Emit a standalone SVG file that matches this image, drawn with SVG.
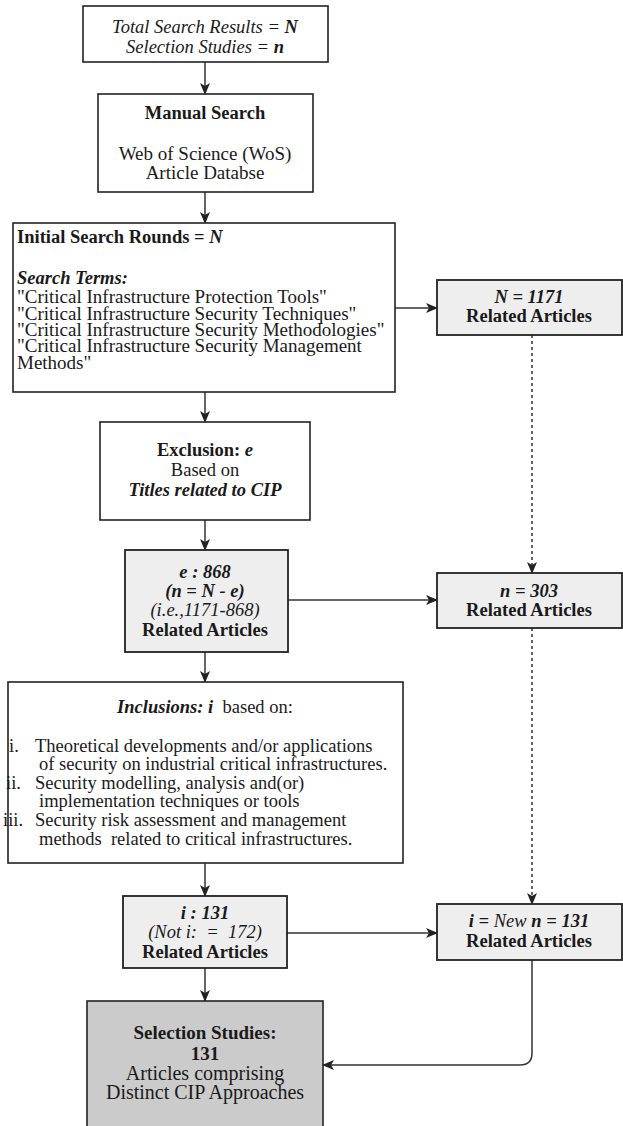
<svg xmlns="http://www.w3.org/2000/svg" width="623" height="1126" viewBox="0 0 623 1126">
<style>
text{font-family:"Liberation Serif","Times New Roman",serif;font-size:18.5px;fill:#1a1a1a}
.c{text-anchor:middle}
.b{font-weight:bold}
.i{font-style:italic}
.bi{font-weight:bold;font-style:italic}
.t19{font-size:19px}
.t20{font-size:20px}
.box{fill:#fff;stroke:#222;stroke-width:1.6}
.gbox{fill:#eeeeee;stroke:#222;stroke-width:1.8}
.dbox{fill:#cbcbcb;stroke:#222;stroke-width:1.6}
.ln{fill:none;stroke:#333;stroke-width:1.5}
.dot{fill:none;stroke:#333;stroke-width:1.5;stroke-dasharray:3 3}
</style>
<defs>
<marker id="ah" viewBox="0 0 12 10" refX="11" refY="5" markerWidth="12" markerHeight="10" markerUnits="userSpaceOnUse" orient="auto">
<path d="M0,0 L12,5 L0,10 L3,5 z" fill="#222"/>
</marker>
</defs>
<g id="connectors">
<line class="ln" x1="205" y1="62" x2="205" y2="94" marker-end="url(#ah)"/>
<line class="ln" x1="205" y1="192" x2="205" y2="223" marker-end="url(#ah)"/>
<line class="ln" x1="395" y1="308" x2="437" y2="308" marker-end="url(#ah)"/>
<line class="dot" x1="532" y1="335" x2="532" y2="573" marker-end="url(#ah)"/>
<line class="ln" x1="205" y1="392" x2="205" y2="422" marker-end="url(#ah)"/>
<line class="ln" x1="205" y1="520" x2="205" y2="550" marker-end="url(#ah)"/>
<line class="ln" x1="288" y1="600" x2="437" y2="600" marker-end="url(#ah)"/>
<line class="dot" x1="532" y1="628" x2="532" y2="904" marker-end="url(#ah)"/>
<line class="ln" x1="205" y1="652" x2="205" y2="682" marker-end="url(#ah)"/>
<line class="ln" x1="205" y1="863" x2="205" y2="896" marker-end="url(#ah)"/>
<line class="ln" x1="287" y1="933" x2="437" y2="933" marker-end="url(#ah)"/>
<line class="ln" x1="205" y1="968" x2="205" y2="1001" marker-end="url(#ah)"/>
<path class="ln" d="M532,960 L532,1053 Q532,1065 520,1065 L323,1065" marker-end="url(#ah)"/>
</g>
<g id="n1">
<rect class="box" x="83" y="6" width="245" height="56"/>
<text class="c i" x="205" y="33">Total Search Results = <tspan class="bi">N</tspan></text>
<text class="c i" x="205" y="53">Selection Studies = <tspan class="bi">n</tspan></text>
</g>
<g id="n2">
<rect class="box" x="98" y="94" width="215" height="98"/>
<text class="c b" x="205" y="119">Manual Search</text>
<text class="c t19" x="205" y="160">Web of Science (WoS)</text>
<text class="c t19" x="205" y="179">Article Databse</text>
</g>
<g id="n3">
<rect class="box" x="13" y="223" width="382" height="169"/>
<text class="b" x="17" y="243">Initial Search Rounds = <tspan class="bi">N</tspan></text>
<text class="bi" x="17" y="284">Search Terms:</text>
<text class="t19" x="17" y="303">"Critical Infrastructure Protection Tools"</text>
<text class="t19" x="17" y="320">"Critical Infrastructure Security Techniques"</text>
<text class="t19" x="17" y="336">"Critical Infrastructure Security Methodologies"</text>
<text class="t19" x="17" y="352">"Critical Infrastructure Security Management</text>
<text class="t19" x="17" y="369">Methods"</text>
</g>
<g id="n4">
<rect class="gbox" x="437" y="280" width="185" height="55"/>
<text class="c bi" x="529" y="303">N = 1171</text>
<text class="c b" x="529" y="322">Related Articles</text>
</g>
<g id="n5">
<rect class="box" x="100" y="422" width="210" height="98"/>
<text class="c b" x="205" y="456">Exclusion: <tspan class="bi">e</tspan></text>
<text class="c" x="205" y="476">Based on</text>
<text class="c bi" x="205" y="496">Titles related to CIP</text>
</g>
<g id="n6">
<rect class="gbox" x="125" y="550" width="163" height="102"/>
<text class="c bi" x="205" y="578">e : 868</text>
<text class="c bi" x="205" y="597">(n = N - e)</text>
<text class="c i" x="205" y="616">(i.e.,1171-868)</text>
<text class="c b" x="205" y="636">Related Articles</text>
</g>
<g id="n7">
<rect class="gbox" x="437" y="573" width="185" height="55"/>
<text class="c bi" x="529" y="597">n = 303</text>
<text class="c b" x="529" y="616">Related Articles</text>
</g>
<g id="n8">
<rect class="box" x="8" y="682" width="395" height="181"/>
<text class="c" x="205" y="713" xml:space="preserve"><tspan class="bi">Inclusions: i</tspan>  based on:</text>
<text x="9" y="752">i.</text>
<text x="35" y="752">Theoretical developments and/or applications</text>
<text x="39" y="770">of security on industrial critical infrastructures.</text>
<text x="6" y="789">ii.</text>
<text x="35" y="789">Security modelling, analysis and(or)</text>
<text x="39" y="807">implementation techniques or tools</text>
<text x="3" y="826">iii.</text>
<text x="35" y="826">Security risk assessment and management</text>
<text x="39" y="845" xml:space="preserve">methods  related to critical infrastructures.</text>
</g>
<g id="n9">
<rect class="gbox" x="123" y="896" width="164" height="72"/>
<text class="c bi" x="205" y="919">i : 131</text>
<text class="c i" x="205" y="938" xml:space="preserve">(Not i:  =  172)</text>
<text class="c b" x="205" y="958">Related Articles</text>
</g>
<g id="n10">
<rect class="gbox" x="437" y="904" width="185" height="56"/>
<text class="c bi" x="529" y="927">i = <tspan class="i" font-weight="normal">New</tspan> n = 131</text>
<text class="c b" x="529" y="947">Related Articles</text>
</g>
<g id="n11">
<rect class="dbox" x="87" y="1001" width="236" height="130"/>
<text class="c b t19" x="205" y="1039">Selection Studies:</text>
<text class="c b t19" x="205" y="1060">131</text>
<text class="c t20" x="205" y="1080">Articles comprising</text>
<text class="c t20" x="205" y="1099">Distinct CIP Approaches</text>
</g>
</svg>
